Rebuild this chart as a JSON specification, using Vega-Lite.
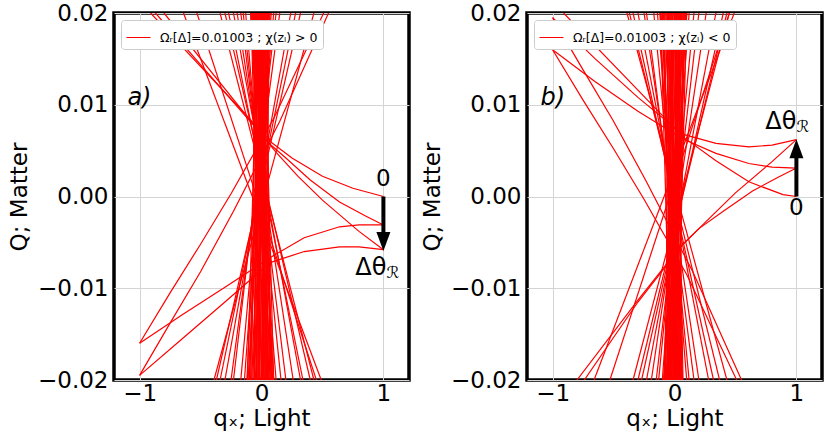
{
  "$schema": "https://vega.github.io/schema/vega-lite/v6.json",
  "padding": {"left": 6, "top": 0, "right": 0, "bottom": 0},
  "spacing": 8,
  "datasets": {
    "lines": [
      {"p":"a","k":"b1","x":-0.09,"y":0.02},{"p":"a","k":"b1","x":0.08,"y":-0.02},
      {"p":"a","k":"b2","x":-0.08,"y":0.02},{"p":"a","k":"b2","x":0.05,"y":-0.02},
      {"p":"a","k":"b3","x":-0.07,"y":0.02},{"p":"a","k":"b3","x":0.10,"y":-0.02},
      {"p":"a","k":"b4","x":-0.065,"y":0.02},{"p":"a","k":"b4","x":0.02,"y":-0.02},
      {"p":"a","k":"b5","x":-0.06,"y":0.02},{"p":"a","k":"b5","x":0.06,"y":-0.02},
      {"p":"a","k":"b6","x":-0.05,"y":0.02},{"p":"a","k":"b6","x":-0.02,"y":-0.02},
      {"p":"a","k":"b7","x":-0.045,"y":0.02},{"p":"a","k":"b7","x":0.09,"y":-0.02},
      {"p":"a","k":"b8","x":-0.04,"y":0.02},{"p":"a","k":"b8","x":0.03,"y":-0.02},
      {"p":"a","k":"b9","x":-0.035,"y":0.02},{"p":"a","k":"b9","x":-0.06,"y":-0.02},
      {"p":"a","k":"b10","x":-0.03,"y":0.02},{"p":"a","k":"b10","x":0.07,"y":-0.02},
      {"p":"a","k":"b11","x":-0.025,"y":0.02},{"p":"a","k":"b11","x":0.0,"y":-0.02},
      {"p":"a","k":"b12","x":-0.02,"y":0.02},{"p":"a","k":"b12","x":-0.09,"y":-0.02},
      {"p":"a","k":"b13","x":-0.015,"y":0.02},{"p":"a","k":"b13","x":0.04,"y":-0.02},
      {"p":"a","k":"b14","x":-0.01,"y":0.02},{"p":"a","k":"b14","x":-0.04,"y":-0.02},
      {"p":"a","k":"b15","x":-0.005,"y":0.02},{"p":"a","k":"b15","x":0.08,"y":-0.02},
      {"p":"a","k":"b16","x":0.0,"y":0.02},{"p":"a","k":"b16","x":-0.10,"y":-0.02},
      {"p":"a","k":"b17","x":0.005,"y":0.02},{"p":"a","k":"b17","x":0.01,"y":-0.02},
      {"p":"a","k":"b18","x":0.01,"y":0.02},{"p":"a","k":"b18","x":-0.07,"y":-0.02},
      {"p":"a","k":"b19","x":0.015,"y":0.02},{"p":"a","k":"b19","x":0.05,"y":-0.02},
      {"p":"a","k":"b20","x":0.02,"y":0.02},{"p":"a","k":"b20","x":-0.03,"y":-0.02},
      {"p":"a","k":"b21","x":0.025,"y":0.02},{"p":"a","k":"b21","x":-0.12,"y":-0.02},
      {"p":"a","k":"b22","x":0.03,"y":0.02},{"p":"a","k":"b22","x":0.02,"y":-0.02},
      {"p":"a","k":"b23","x":0.035,"y":0.02},{"p":"a","k":"b23","x":-0.08,"y":-0.02},
      {"p":"a","k":"b24","x":0.04,"y":0.02},{"p":"a","k":"b24","x":0.0,"y":-0.02},
      {"p":"a","k":"b25","x":0.045,"y":0.02},{"p":"a","k":"b25","x":-0.05,"y":-0.02},
      {"p":"a","k":"b26","x":0.05,"y":0.02},{"p":"a","k":"b26","x":0.04,"y":-0.02},
      {"p":"a","k":"b27","x":0.055,"y":0.02},{"p":"a","k":"b27","x":-0.11,"y":-0.02},
      {"p":"a","k":"b28","x":0.06,"y":0.02},{"p":"a","k":"b28","x":-0.02,"y":-0.02},
      {"p":"a","k":"b29","x":0.065,"y":0.02},{"p":"a","k":"b29","x":-0.06,"y":-0.02},
      {"p":"a","k":"b30","x":0.07,"y":0.02},{"p":"a","k":"b30","x":0.01,"y":-0.02},
      {"p":"a","k":"b31","x":-0.085,"y":0.02},{"p":"a","k":"b31","x":-0.01,"y":-0.02},
      {"p":"a","k":"b32","x":-0.055,"y":0.02},{"p":"a","k":"b32","x":-0.08,"y":-0.02},
      {"p":"a","k":"b33","x":0.0,"y":0.02},{"p":"a","k":"b33","x":0.06,"y":-0.02},
      {"p":"a","k":"b34","x":0.02,"y":0.02},{"p":"a","k":"b34","x":0.10,"y":-0.02},
      {"p":"a","k":"b35","x":-0.03,"y":0.02},{"p":"a","k":"b35","x":-0.115,"y":-0.02},
      {"p":"a","k":"b36","x":0.045,"y":0.02},{"p":"a","k":"b36","x":0.07,"y":-0.02},
      {"p":"a","k":"b37","x":-0.075,"y":0.02},{"p":"a","k":"b37","x":0.0,"y":-0.02},
      {"p":"a","k":"b38","x":-0.05,"y":0.02},{"p":"a","k":"b38","x":0.05,"y":-0.02},
      {"p":"a","k":"b39","x":-0.04,"y":0.02},{"p":"a","k":"b39","x":-0.03,"y":-0.02},
      {"p":"a","k":"b40","x":-0.02,"y":0.02},{"p":"a","k":"b40","x":0.02,"y":-0.02},
      {"p":"a","k":"b41","x":-0.01,"y":0.02},{"p":"a","k":"b41","x":0.09,"y":-0.02},
      {"p":"a","k":"b42","x":0.0,"y":0.02},{"p":"a","k":"b42","x":-0.02,"y":-0.02},
      {"p":"a","k":"b43","x":0.01,"y":0.02},{"p":"a","k":"b43","x":0.03,"y":-0.02},
      {"p":"a","k":"b44","x":0.02,"y":0.02},{"p":"a","k":"b44","x":-0.06,"y":-0.02},
      {"p":"a","k":"b45","x":0.03,"y":0.02},{"p":"a","k":"b45","x":0.08,"y":-0.02},
      {"p":"a","k":"b46","x":0.04,"y":0.02},{"p":"a","k":"b46","x":-0.10,"y":-0.02},
      {"p":"a","k":"b47","x":0.05,"y":0.02},{"p":"a","k":"b47","x":0.0,"y":-0.02},
      {"p":"a","k":"b48","x":0.06,"y":0.02},{"p":"a","k":"b48","x":0.03,"y":-0.02},
      {"p":"a","k":"b49","x":-0.06,"y":0.02},{"p":"a","k":"b49","x":-0.04,"y":-0.02},
      {"p":"a","k":"b50","x":-0.03,"y":0.02},{"p":"a","k":"b50","x":0.05,"y":-0.02},
      {"p":"a","k":"f1","x":-0.64,"y":0.02},{"p":"a","k":"f1","x":0.49,"y":-0.02},
      {"p":"a","k":"f2","x":-0.53,"y":0.02},{"p":"a","k":"f2","x":0.45,"y":-0.02},
      {"p":"a","k":"f3","x":-0.34,"y":0.02},{"p":"a","k":"f3","x":0.43,"y":-0.02},
      {"p":"a","k":"f4","x":-0.30,"y":0.02},{"p":"a","k":"f4","x":0.40,"y":-0.02},
      {"p":"a","k":"f5","x":-0.27,"y":0.02},{"p":"a","k":"f5","x":0.34,"y":-0.02},
      {"p":"a","k":"f6","x":-0.23,"y":0.02},{"p":"a","k":"f6","x":0.32,"y":-0.02},
      {"p":"a","k":"f7","x":-0.20,"y":0.02},{"p":"a","k":"f7","x":0.26,"y":-0.02},
      {"p":"a","k":"f8","x":-0.17,"y":0.02},{"p":"a","k":"f8","x":0.20,"y":-0.02},
      {"p":"a","k":"f9","x":-0.15,"y":0.02},{"p":"a","k":"f9","x":0.16,"y":-0.02},
      {"p":"a","k":"f10","x":-0.13,"y":0.02},{"p":"a","k":"f10","x":0.12,"y":-0.02},
      {"p":"a","k":"f11","x":0.43,"y":0.02},{"p":"a","k":"f11","x":-0.39,"y":-0.02},
      {"p":"a","k":"f12","x":0.32,"y":0.02},{"p":"a","k":"f12","x":-0.37,"y":-0.02},
      {"p":"a","k":"f13","x":0.28,"y":0.02},{"p":"a","k":"f13","x":-0.34,"y":-0.02},
      {"p":"a","k":"f14","x":0.24,"y":0.02},{"p":"a","k":"f14","x":-0.30,"y":-0.02},
      {"p":"a","k":"f15","x":0.15,"y":0.02},{"p":"a","k":"f15","x":-0.25,"y":-0.02},
      {"p":"a","k":"f16","x":0.12,"y":0.02},{"p":"a","k":"f16","x":-0.23,"y":-0.02},
      {"p":"a","k":"f17","x":0.10,"y":0.02},{"p":"a","k":"f17","x":-0.17,"y":-0.02},
      {"p":"a","k":"f18","x":0.08,"y":0.02},{"p":"a","k":"f18","x":-0.14,"y":-0.02},
      {"p":"a","k":"t1","x":1,"y":0},{"p":"a","k":"t1","x":0.75,"y":0.0009},{"p":"a","k":"t1","x":0.5,"y":0.0022},{"p":"a","k":"t1","x":0.25,"y":0.0042},{"p":"a","k":"t1","x":0.09,"y":0.0058},{"p":"a","k":"t1","x":-0.91,"y":0.02},
      {"p":"a","k":"t2","x":1,"y":-0.0031},{"p":"a","k":"t2","x":0.85,"y":-0.0021},{"p":"a","k":"t2","x":0.64,"y":-0.0006},{"p":"a","k":"t2","x":0.4,"y":0.0018},{"p":"a","k":"t2","x":0.2,"y":0.0042},{"p":"a","k":"t2","x":0.07,"y":0.0057},{"p":"a","k":"t2","x":-0.87,"y":0.02},
      {"p":"a","k":"t3","x":1,"y":-0.0058},{"p":"a","k":"t3","x":0.8,"y":-0.0038},{"p":"a","k":"t3","x":0.5,"y":-0.0004},{"p":"a","k":"t3","x":0.3,"y":0.0022},{"p":"a","k":"t3","x":0.12,"y":0.0048},{"p":"a","k":"t3","x":-0.8,"y":0.02},
      {"p":"a","k":"t4","x":1,"y":-0.0031},{"p":"a","k":"t4","x":0.8,"y":-0.0031},{"p":"a","k":"t4","x":0.64,"y":-0.0033},{"p":"a","k":"t4","x":0.35,"y":-0.0045},{"p":"a","k":"t4","x":0.09,"y":-0.0065},{"p":"a","k":"t4","x":-0.3,"y":-0.0099},{"p":"a","k":"t4","x":-0.65,"y":-0.0129},{"p":"a","k":"t4","x":-1,"y":-0.016},
      {"p":"a","k":"t5","x":1,"y":-0.0058},{"p":"a","k":"t5","x":0.8,"y":-0.0055},{"p":"a","k":"t5","x":0.64,"y":-0.0055},{"p":"a","k":"t5","x":0.35,"y":-0.006},{"p":"a","k":"t5","x":0.07,"y":-0.0072},{"p":"a","k":"t5","x":-0.3,"y":-0.0115},{"p":"a","k":"t5","x":-0.65,"y":-0.0155},{"p":"a","k":"t5","x":-1,"y":-0.0195},
      {"p":"a","k":"t6","x":-1,"y":-0.016},{"p":"a","k":"t6","x":-0.75,"y":-0.0105},{"p":"a","k":"t6","x":-0.5,"y":-0.0052},{"p":"a","k":"t6","x":-0.25,"y":0.0003},{"p":"a","k":"t6","x":0.1,"y":0.0085},{"p":"a","k":"t6","x":0.51,"y":0.02},
      {"p":"a","k":"t7","x":-1,"y":-0.0195},{"p":"a","k":"t7","x":-0.75,"y":-0.0138},{"p":"a","k":"t7","x":-0.5,"y":-0.0082},{"p":"a","k":"t7","x":-0.23,"y":-0.0016},{"p":"a","k":"t7","x":0.15,"y":0.0082},{"p":"a","k":"t7","x":0.55,"y":0.02},

      {"p":"b","k":"b1","x":-0.09,"y":-0.02},{"p":"b","k":"b1","x":0.08,"y":0.02},
      {"p":"b","k":"b2","x":-0.08,"y":-0.02},{"p":"b","k":"b2","x":0.05,"y":0.02},
      {"p":"b","k":"b3","x":-0.07,"y":-0.02},{"p":"b","k":"b3","x":0.10,"y":0.02},
      {"p":"b","k":"b4","x":-0.065,"y":-0.02},{"p":"b","k":"b4","x":0.02,"y":0.02},
      {"p":"b","k":"b5","x":-0.06,"y":-0.02},{"p":"b","k":"b5","x":0.06,"y":0.02},
      {"p":"b","k":"b6","x":-0.05,"y":-0.02},{"p":"b","k":"b6","x":-0.02,"y":0.02},
      {"p":"b","k":"b7","x":-0.045,"y":-0.02},{"p":"b","k":"b7","x":0.09,"y":0.02},
      {"p":"b","k":"b8","x":-0.04,"y":-0.02},{"p":"b","k":"b8","x":0.03,"y":0.02},
      {"p":"b","k":"b9","x":-0.035,"y":-0.02},{"p":"b","k":"b9","x":-0.06,"y":0.02},
      {"p":"b","k":"b10","x":-0.03,"y":-0.02},{"p":"b","k":"b10","x":0.07,"y":0.02},
      {"p":"b","k":"b11","x":-0.025,"y":-0.02},{"p":"b","k":"b11","x":0.0,"y":0.02},
      {"p":"b","k":"b12","x":-0.02,"y":-0.02},{"p":"b","k":"b12","x":-0.09,"y":0.02},
      {"p":"b","k":"b13","x":-0.015,"y":-0.02},{"p":"b","k":"b13","x":0.04,"y":0.02},
      {"p":"b","k":"b14","x":-0.01,"y":-0.02},{"p":"b","k":"b14","x":-0.04,"y":0.02},
      {"p":"b","k":"b15","x":-0.005,"y":-0.02},{"p":"b","k":"b15","x":0.08,"y":0.02},
      {"p":"b","k":"b16","x":0.0,"y":-0.02},{"p":"b","k":"b16","x":-0.10,"y":0.02},
      {"p":"b","k":"b17","x":0.005,"y":-0.02},{"p":"b","k":"b17","x":0.01,"y":0.02},
      {"p":"b","k":"b18","x":0.01,"y":-0.02},{"p":"b","k":"b18","x":-0.07,"y":0.02},
      {"p":"b","k":"b19","x":0.015,"y":-0.02},{"p":"b","k":"b19","x":0.05,"y":0.02},
      {"p":"b","k":"b20","x":0.02,"y":-0.02},{"p":"b","k":"b20","x":-0.03,"y":0.02},
      {"p":"b","k":"b21","x":0.025,"y":-0.02},{"p":"b","k":"b21","x":-0.12,"y":0.02},
      {"p":"b","k":"b22","x":0.03,"y":-0.02},{"p":"b","k":"b22","x":0.02,"y":0.02},
      {"p":"b","k":"b23","x":0.035,"y":-0.02},{"p":"b","k":"b23","x":-0.08,"y":0.02},
      {"p":"b","k":"b24","x":0.04,"y":-0.02},{"p":"b","k":"b24","x":0.0,"y":0.02},
      {"p":"b","k":"b25","x":0.045,"y":-0.02},{"p":"b","k":"b25","x":-0.05,"y":0.02},
      {"p":"b","k":"b26","x":0.05,"y":-0.02},{"p":"b","k":"b26","x":0.04,"y":0.02},
      {"p":"b","k":"b27","x":0.055,"y":-0.02},{"p":"b","k":"b27","x":-0.11,"y":0.02},
      {"p":"b","k":"b28","x":0.06,"y":-0.02},{"p":"b","k":"b28","x":-0.02,"y":0.02},
      {"p":"b","k":"b29","x":0.065,"y":-0.02},{"p":"b","k":"b29","x":-0.06,"y":0.02},
      {"p":"b","k":"b30","x":0.07,"y":-0.02},{"p":"b","k":"b30","x":0.01,"y":0.02},
      {"p":"b","k":"b31","x":-0.085,"y":-0.02},{"p":"b","k":"b31","x":-0.01,"y":0.02},
      {"p":"b","k":"b32","x":-0.055,"y":-0.02},{"p":"b","k":"b32","x":-0.08,"y":0.02},
      {"p":"b","k":"b33","x":0.0,"y":-0.02},{"p":"b","k":"b33","x":0.06,"y":0.02},
      {"p":"b","k":"b34","x":0.02,"y":-0.02},{"p":"b","k":"b34","x":0.10,"y":0.02},
      {"p":"b","k":"b35","x":-0.03,"y":-0.02},{"p":"b","k":"b35","x":-0.115,"y":0.02},
      {"p":"b","k":"b36","x":0.045,"y":-0.02},{"p":"b","k":"b36","x":0.07,"y":0.02},
      {"p":"b","k":"b37","x":-0.075,"y":-0.02},{"p":"b","k":"b37","x":0.0,"y":0.02},
      {"p":"b","k":"b38","x":-0.05,"y":-0.02},{"p":"b","k":"b38","x":0.05,"y":0.02},
      {"p":"b","k":"b39","x":-0.04,"y":-0.02},{"p":"b","k":"b39","x":-0.03,"y":0.02},
      {"p":"b","k":"b40","x":-0.02,"y":-0.02},{"p":"b","k":"b40","x":0.02,"y":0.02},
      {"p":"b","k":"b41","x":-0.01,"y":-0.02},{"p":"b","k":"b41","x":0.09,"y":0.02},
      {"p":"b","k":"b42","x":0.0,"y":-0.02},{"p":"b","k":"b42","x":-0.02,"y":0.02},
      {"p":"b","k":"b43","x":0.01,"y":-0.02},{"p":"b","k":"b43","x":0.03,"y":0.02},
      {"p":"b","k":"b44","x":0.02,"y":-0.02},{"p":"b","k":"b44","x":-0.06,"y":0.02},
      {"p":"b","k":"b45","x":0.03,"y":-0.02},{"p":"b","k":"b45","x":0.08,"y":0.02},
      {"p":"b","k":"b46","x":0.04,"y":-0.02},{"p":"b","k":"b46","x":-0.10,"y":0.02},
      {"p":"b","k":"b47","x":0.05,"y":-0.02},{"p":"b","k":"b47","x":0.0,"y":0.02},
      {"p":"b","k":"b48","x":0.06,"y":-0.02},{"p":"b","k":"b48","x":0.03,"y":0.02},
      {"p":"b","k":"b49","x":-0.06,"y":-0.02},{"p":"b","k":"b49","x":-0.04,"y":0.02},
      {"p":"b","k":"b50","x":-0.03,"y":-0.02},{"p":"b","k":"b50","x":0.05,"y":0.02},
      {"p":"b","k":"f1","x":-0.39,"y":0.02},{"p":"b","k":"f1","x":0.43,"y":-0.02},
      {"p":"b","k":"f2","x":-0.37,"y":0.02},{"p":"b","k":"f2","x":0.37,"y":-0.02},
      {"p":"b","k":"f3","x":-0.34,"y":0.02},{"p":"b","k":"f3","x":0.32,"y":-0.02},
      {"p":"b","k":"f4","x":-0.30,"y":0.02},{"p":"b","k":"f4","x":0.28,"y":-0.02},
      {"p":"b","k":"f5","x":-0.25,"y":0.02},{"p":"b","k":"f5","x":0.20,"y":-0.02},
      {"p":"b","k":"f6","x":-0.23,"y":0.02},{"p":"b","k":"f6","x":0.16,"y":-0.02},
      {"p":"b","k":"f7","x":-0.17,"y":0.02},{"p":"b","k":"f7","x":0.12,"y":-0.02},
      {"p":"b","k":"f8","x":-0.14,"y":0.02},{"p":"b","k":"f8","x":0.10,"y":-0.02},
      {"p":"b","k":"f9","x":0.45,"y":0.02},{"p":"b","k":"f9","x":-0.34,"y":-0.02},
      {"p":"b","k":"f10","x":0.43,"y":0.02},{"p":"b","k":"f10","x":-0.30,"y":-0.02},
      {"p":"b","k":"f11","x":0.40,"y":0.02},{"p":"b","k":"f11","x":-0.27,"y":-0.02},
      {"p":"b","k":"f12","x":0.34,"y":0.02},{"p":"b","k":"f12","x":-0.23,"y":-0.02},
      {"p":"b","k":"f13","x":0.26,"y":0.02},{"p":"b","k":"f13","x":-0.19,"y":-0.02},
      {"p":"b","k":"f14","x":0.20,"y":0.02},{"p":"b","k":"f14","x":-0.15,"y":-0.02},
      {"p":"b","k":"f15","x":0.16,"y":0.02},{"p":"b","k":"f15","x":-0.13,"y":-0.02},
      {"p":"b","k":"f16","x":0.12,"y":0.02},{"p":"b","k":"f16","x":-0.10,"y":-0.02},
      {"p":"b","k":"f17","x":0.49,"y":0.02},{"p":"b","k":"f17","x":-0.66,"y":-0.02},
      {"p":"b","k":"f18","x":0.45,"y":0.02},{"p":"b","k":"f18","x":-0.53,"y":-0.02},
      {"p":"b","k":"u1","x":1,"y":0},{"p":"b","k":"u1","x":0.89,"y":0.0002},{"p":"b","k":"u1","x":0.61,"y":0.0016},{"p":"b","k":"u1","x":0.34,"y":0.0039},{"p":"b","k":"u1","x":0.07,"y":0.0065},{"p":"b","k":"u1","x":-0.91,"y":0.02},
      {"p":"b","k":"u2","x":1,"y":0.0031},{"p":"b","k":"u2","x":0.8,"y":0.0032},{"p":"b","k":"u2","x":0.61,"y":0.0036},{"p":"b","k":"u2","x":0.34,"y":0.0047},{"p":"b","k":"u2","x":0.066,"y":0.0063},{"p":"b","k":"u2","x":-0.3,"y":0.0093},{"p":"b","k":"u2","x":-0.65,"y":0.0125},{"p":"b","k":"u2","x":-1,"y":0.016},
      {"p":"b","k":"u3","x":1,"y":0.0062},{"p":"b","k":"u3","x":0.8,"y":0.0056},{"p":"b","k":"u3","x":0.61,"y":0.0054},{"p":"b","k":"u3","x":0.34,"y":0.0058},{"p":"b","k":"u3","x":0.066,"y":0.0068},{"p":"b","k":"u3","x":-0.3,"y":0.0108},{"p":"b","k":"u3","x":-0.65,"y":0.015},{"p":"b","k":"u3","x":-1,"y":0.0195},
      {"p":"b","k":"v1","x":1,"y":0.0062},{"p":"b","k":"v1","x":0.8,"y":0.0038},{"p":"b","k":"v1","x":0.5,"y":0.0004},{"p":"b","k":"v1","x":0.3,"y":-0.0022},{"p":"b","k":"v1","x":0.04,"y":-0.0056},{"p":"b","k":"v1","x":-0.3,"y":-0.0113},{"p":"b","k":"v1","x":-0.8,"y":-0.02},
      {"p":"b","k":"v2","x":1,"y":0.0031},{"p":"b","k":"v2","x":0.85,"y":0.0021},{"p":"b","k":"v2","x":0.64,"y":0.0006},{"p":"b","k":"v2","x":0.4,"y":-0.0016},{"p":"b","k":"v2","x":0.2,"y":-0.0035},{"p":"b","k":"v2","x":0.07,"y":-0.0052},{"p":"b","k":"v2","x":-0.3,"y":-0.0115},{"p":"b","k":"v2","x":-0.74,"y":-0.02},
      {"p":"b","k":"w1","x":-1,"y":0.016},{"p":"b","k":"w1","x":-0.75,"y":0.0105},{"p":"b","k":"w1","x":-0.5,"y":0.0052},{"p":"b","k":"w1","x":-0.25,"y":-0.0003},{"p":"b","k":"w1","x":0.1,"y":-0.0085},{"p":"b","k":"w1","x":0.51,"y":-0.02},
      {"p":"b","k":"w2","x":-1,"y":0.0195},{"p":"b","k":"w2","x":-0.75,"y":0.0138},{"p":"b","k":"w2","x":-0.5,"y":0.0082},{"p":"b","k":"w2","x":-0.23,"y":0.0016},{"p":"b","k":"w2","x":0.15,"y":-0.0082},{"p":"b","k":"w2","x":0.55,"y":-0.02}
    ]
  },
  "hconcat": [
    {
      "width": 295,
      "height": 367,
      "encoding": {
        "x": {"field": "x", "type": "quantitative", "scale": {"domain": [-1.21, 1.21], "nice": false, "zero": false},
              "axis": {"values": [-1, 0, 1], "format": "d", "title": "qₓ; Light"}},
        "y": {"field": "y", "type": "quantitative", "scale": {"domain": [-0.02, 0.02], "nice": false, "zero": false},
              "axis": {"values": [-0.02, -0.01, 0, 0.01, 0.02], "format": ".2f", "title": "Q; Matter"}}
      },
      "layer": [
        {
          "data": {"name": "lines"},
          "transform": [{"filter": "datum.p === 'a'"}],
          "mark": {"type": "line", "strokeWidth": 1.2, "clip": true},
          "encoding": {
            "detail": {"field": "k"},
            "color": {"datum": "Ωᵣ[Δ]=0.01003 ; χ(zₗ) > 0", "type": "nominal", "scale": {"range": ["#ff0000"]}}
          }
        },
        {
          "data": {"values": [{"x": 1, "y": 0, "y2": -0.004}]},
          "mark": {"type": "rule", "strokeWidth": 4, "color": "black"},
          "encoding": {"y2": {"field": "y2"}}
        },
        {
          "data": {"values": [{"x": 1, "y": -0.0049}]},
          "mark": {"type": "point", "shape": "M-0.7,-0.95L0.7,-0.95L0,0.95Z", "filled": true, "color": "black", "opacity": 1, "size": 400},
          "encoding": {}
        },
        {
          "data": {"values": [{"x": 1, "y": 0.0019, "t": "0"}]},
          "mark": {"type": "text", "fontSize": 23, "align": "center", "baseline": "middle", "color": "black"},
          "encoding": {"text": {"field": "t"}}
        },
        {
          "data": {"values": [{"x": 1, "y": -0.0078, "t": "Δθ"}]},
          "mark": {"type": "text", "fontSize": 24, "align": "right", "baseline": "middle", "dx": 3, "color": "black"},
          "encoding": {"text": {"field": "t"}}
        },
        {
          "data": {"values": [{"x": 1, "y": -0.0078, "t": "ℛ"}]},
          "mark": {"type": "text", "fontSize": 16, "align": "left", "baseline": "middle", "dx": 3, "dy": 5, "color": "black"},
          "encoding": {"text": {"field": "t"}}
        },
        {
          "data": {"values": [{"x": -1.1, "y": 0.0107, "t": "a)"}]},
          "mark": {"type": "text", "fontSize": 24, "fontStyle": "italic", "align": "left", "baseline": "middle", "color": "black"},
          "encoding": {"text": {"field": "t"}}
        }
      ]
    },
    {
      "width": 295,
      "height": 367,
      "encoding": {
        "x": {"field": "x", "type": "quantitative", "scale": {"domain": [-1.21, 1.21], "nice": false, "zero": false},
              "axis": {"values": [-1, 0, 1], "format": "d", "title": "qₓ; Light"}},
        "y": {"field": "y", "type": "quantitative", "scale": {"domain": [-0.02, 0.02], "nice": false, "zero": false},
              "axis": {"values": [-0.02, -0.01, 0, 0.01, 0.02], "format": ".2f", "title": "Q; Matter"}}
      },
      "layer": [
        {
          "data": {"name": "lines"},
          "transform": [{"filter": "datum.p === 'b'"}],
          "mark": {"type": "line", "strokeWidth": 1.2, "clip": true},
          "encoding": {
            "detail": {"field": "k"},
            "color": {"datum": "Ωᵣ[Δ]=0.01003 ; χ(zₗ) < 0", "type": "nominal", "scale": {"range": ["#ff0000"]}}
          }
        },
        {
          "data": {"values": [{"x": 1, "y": 0, "y2": 0.0042}]},
          "mark": {"type": "rule", "strokeWidth": 4, "color": "black"},
          "encoding": {"y2": {"field": "y2"}}
        },
        {
          "data": {"values": [{"x": 1, "y": 0.0052}]},
          "mark": {"type": "point", "shape": "M-0.7,0.95L0.7,0.95L0,-0.95Z", "filled": true, "color": "black", "opacity": 1, "size": 400},
          "encoding": {}
        },
        {
          "data": {"values": [{"x": 1, "y": -0.0013, "t": "0"}]},
          "mark": {"type": "text", "fontSize": 23, "align": "center", "baseline": "middle", "color": "black"},
          "encoding": {"text": {"field": "t"}}
        },
        {
          "data": {"values": [{"x": 1, "y": 0.0081, "t": "Δθ"}]},
          "mark": {"type": "text", "fontSize": 24, "align": "right", "baseline": "middle", "dx": 0, "color": "black"},
          "encoding": {"text": {"field": "t"}}
        },
        {
          "data": {"values": [{"x": 1, "y": 0.0081, "t": "ℛ"}]},
          "mark": {"type": "text", "fontSize": 16, "align": "left", "baseline": "middle", "dx": 0, "dy": 5, "color": "black"},
          "encoding": {"text": {"field": "t"}}
        },
        {
          "data": {"values": [{"x": -1.1, "y": 0.0107, "t": "b)"}]},
          "mark": {"type": "text", "fontSize": 24, "fontStyle": "italic", "align": "left", "baseline": "middle", "color": "black"},
          "encoding": {"text": {"field": "t"}}
        }
      ]
    }
  ],
  "resolve": {"scale": {"color": "independent"}, "legend": {"color": "independent"}},
  "config": {
    "font": "DejaVu Sans",
    "view": {"stroke": "black", "strokeWidth": 3.5},
    "axis": {
      "labelFontSize": 23, "titleFontSize": 23, "titleFontWeight": "normal",
      "labelColor": "black", "titleColor": "black", "ticks": false, "domain": false,
      "gridColor": "#d4d4d4", "gridWidth": 1, "labelFlush": false, "labelOverlap": false
    },
    "axisY": {"labelPadding": 6, "titlePadding": 6},
    "axisX": {"labelPadding": 2, "titlePadding": 2},
    "legend": {
      "orient": "top-left", "offset": 7, "title": null, "symbolType": "stroke",
      "symbolStrokeWidth": 1, "symbolSize": 576, "labelOffset": 9, "labelFontSize": 12.5, "labelLimit": 400,
      "labelColor": "black", "fillColor": "white", "strokeColor": "#cccccc", "cornerRadius": 3, "padding": 5
    }
  }
}
